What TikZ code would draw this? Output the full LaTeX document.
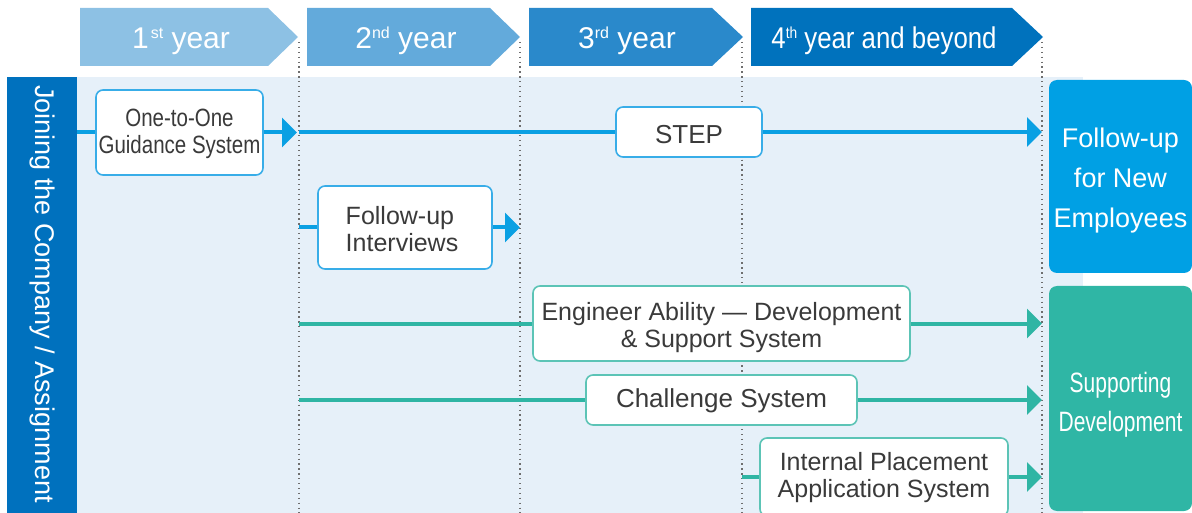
\documentclass[tikz,border=0pt]{standalone}
\usepackage{fontspec}
\setmainfont{Liberation Sans}
\usepackage{graphicx}
\usetikzlibrary{arrows.meta}
\definecolor{chA}{HTML}{8DC1E4}
\definecolor{chB}{HTML}{63AADB}
\definecolor{chC}{HTML}{2A89CB}
\definecolor{chD}{HTML}{0072BD}
\definecolor{barc}{HTML}{0071BE}
\definecolor{bgc}{HTML}{E6F0F9}
\definecolor{blc}{HTML}{0AA0E3}
\definecolor{bbord}{HTML}{38ADE8}
\definecolor{fub}{HTML}{00A0E4}
\definecolor{tlc}{HTML}{2FB5A4}
\definecolor{tbord}{HTML}{5CC4B6}
\definecolor{sdb}{HTML}{2FB6A5}
\definecolor{txt}{HTML}{3A3A3A}
\definecolor{dotc}{HTML}{6E6E6E}
\newcommand{\fsz}[2]{\fontsize{#1}{#2}\selectfont}
\newcommand{\supr}[1]{\raisebox{10pt}{\fontsize{16}{16}\selectfont #1}}
\begin{document}
\begin{tikzpicture}[x=1pt,y=-1pt,
  hdr/.style={text=white,inner sep=0pt,anchor=base,font=\fsz{30}{36}},
  box/.style={draw,line width=1.6pt,rounded corners=7pt,fill=white,text=txt,inner sep=0pt,align=center,font=\fsz{25}{27}},
  bluebox/.style={box,draw=bbord},
  tealbox/.style={box,draw=tbord},
  bline/.style={line width=4pt,draw=blc},
  tline/.style={line width=4pt,draw=tlc},
  arr/.style={-{Triangle[length=15pt,width=29pt]}},
  dotl/.style={draw=dotc,line width=1.3pt,dash pattern=on 1.3pt off 3.6pt},
  bigbox/.style={rounded corners=8pt,inner sep=0pt,text=white,align=center,minimum width=143pt}
]
\useasboundingbox (0,0) rectangle (1192,513);
% background
\fill[bgc] (77,77) rectangle (1083,513);
% header chevrons
\fill[chA] (80,8) -- (268,8) -- (298,37) -- (268,66) -- (80,66) -- cycle;
\fill[chB] (307,8) -- (490,8) -- (520,37) -- (490,66) -- (307,66) -- cycle;
\fill[chC] (529,8) -- (712,8) -- (743,37) -- (712,66) -- (529,66) -- cycle;
\fill[chD] (751,8) -- (1012,8) -- (1043,37) -- (1012,66) -- (751,66) -- cycle;
\node[hdr] (h1) at (181,49) {1\hspace{2pt}\supr{st} year};
\node[hdr] (h2) at (406,49) {2\supr{nd} year};
\node[hdr] (h3) at (627,49) {3\supr{rd} year};
\node[hdr] (h4) at (884,49) {\scalebox{0.86}[1]{4\supr{th} year and beyond}};
% dotted year separators
\coordinate (v1t) at (299,42); \coordinate (v1b) at (299,513);
\coordinate (v2t) at (520,42); \coordinate (v2b) at (520,513);
\coordinate (v3t) at (742,42); \coordinate (v3b) at (742,513);
\coordinate (v4t) at (1042,42); \coordinate (v4b) at (1042,513);
\foreach \v in {1,2,3,4} {\draw[dotl] (v\v t) -- (v\v b);}
% left bar
\node[fill=barc,minimum width=70pt,minimum height=436pt,inner sep=0pt] (bar) at (42,295) {};
\node[rotate=-90,text=white,inner sep=0pt,font=\fsz{27}{30}] (barlbl) at (42,294) {Joining the Company / Assignment};
% right boxes
\node[bigbox,fill=fub,minimum height=193pt,font=\fsz{27}{40}] (fun) at (1120.5,176.5) {\rule{0pt}{28pt}Follow-up\\for New\\Employees};
\node[bigbox,fill=sdb,minimum height=225pt,font=\fsz{28}{39}] (sdv) at (1120.5,398.5) {\scalebox{0.75}[1]{\begin{tabular}{@{}c@{}}\rule{0pt}{39pt}Supporting\\Development\end{tabular}}};
% program boxes
\node[bluebox,minimum width=167pt,minimum height=85pt] (o2o) at (179.5,132.5) {\scalebox{0.82}[1]{\begin{tabular}{@{}c@{}}\rule{0pt}{23pt}One-to-One\\Guidance System\end{tabular}}};
\node[bluebox,minimum width=146pt,minimum height=50pt,font=\fsz{26}{28},text height=23pt,text depth=0pt] (step) at (689,132) {STEP};
\node[bluebox,minimum width=174pt,minimum height=83pt,align=left] (fui) at (405,227.5) {\rule{0pt}{21pt}Follow-up\\Interviews\kern6pt};
\node[tealbox,minimum width=377pt,minimum height=75pt] (eng) at (721.5,323.5) {\begin{tabular}{@{}c@{}}\rule{0pt}{29pt}Engineer Ability --- Development\\\& Support System\end{tabular}};
\node[tealbox,minimum width=271pt,minimum height=50pt,font=\fsz{26}{28},text height=14pt,text depth=0pt] (chal) at (721.5,400) {Challenge System};
\node[tealbox,minimum width=248pt,minimum height=78pt] (ipa) at (884,477) {\begin{tabular}{@{}c@{}}\rule{0pt}{23pt}Internal Placement\\Application System\end{tabular}};
% connectors
\draw[bline] (bar.east |- o2o.west) -- (o2o.west);
\draw[bline,arr,shorten >=2pt] (o2o.east) -- (v1t |- o2o.east);
\draw[bline] (v1t |- step.west) -- (step.west);
\draw[bline,arr] (step.east) -- (v4t |- step.east);
\draw[bline] (v1t |- fui.west) -- (fui.west);
\draw[bline,arr] (fui.east) -- (v2t |- fui.east);
\draw[tline] (v1t |- eng.west) -- (eng.west);
\draw[tline,arr] (eng.east) -- (v4t |- eng.east);
\draw[tline] (v1t |- chal.west) -- (chal.west);
\draw[tline,arr] (chal.east) -- (v4t |- chal.east);
\draw[tline] (v3t |- ipa.west) -- (ipa.west);
\draw[tline,arr] (ipa.east) -- (v4t |- ipa.east);
\end{tikzpicture}
\end{document}
